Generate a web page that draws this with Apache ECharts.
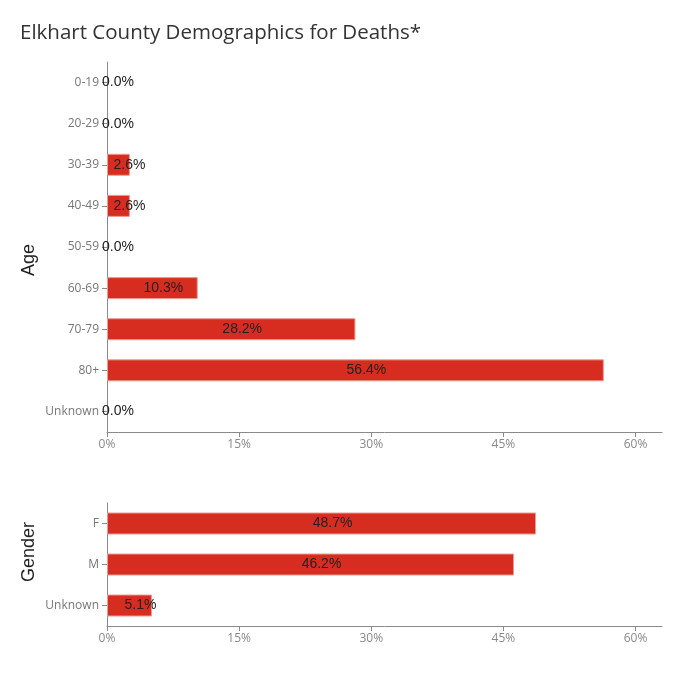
<!DOCTYPE html>
<html>
<head>
<meta charset="utf-8">
<script src="https://cdn.jsdelivr.net/npm/echarts@6/dist/echarts.min.js"></script>
<style>
  html, body { margin: 0; padding: 0; background: #fff; }
  #chart { width: 678px; height: 698px; }
</style>
</head>
<body>
<div id="chart"></div>
<script>
const titleText = 'Elkhart County Demographics for Deaths*';
const ageCategories = ['0-19', '20-29', '30-39', '40-49', '50-59', '60-69', '70-79', '80+', 'Unknown'];
const ageValues = [0, 0, 2.6, 2.6, 0, 10.3, 28.2, 56.4, 0];
const genderCategories = ['F', 'M', 'Unknown'];
const genderValues = [48.7, 46.2, 5.1];
const xTickValues = [0, 15, 30, 45, 60];
const panelNames = ['Age', 'Gender'];

const chart = echarts.init(document.getElementById('chart'), null, { renderer: 'canvas' });

const axisGray = '#8a8a8a';
const labelFont = 'Open Sans';

function xAxisFor(gridIndex) {
  return {
    type: 'value', gridIndex: gridIndex, min: 0, max: 63,
    axisLine: { show: true, lineStyle: { color: axisGray, width: 1 } },
    axisTick: { show: true, length: 5, lineStyle: { color: axisGray }, customValues: xTickValues },
    axisLabel: { color: '#888', fontSize: 12, fontFamily: labelFont, margin: 7,
      customValues: xTickValues, formatter: v => v + '%' },
    splitLine: { show: false }
  };
}
function yAxisFor(gridIndex, cats) {
  return {
    type: 'category', gridIndex: gridIndex, data: cats, inverse: true,
    axisLine: { show: true, lineStyle: { color: axisGray, width: 1 } },
    axisTick: { show: true, length: 5, alignWithLabel: true, lineStyle: { color: axisGray } },
    axisLabel: { color: '#777', fontSize: 12, fontFamily: labelFont, margin: 8 },
    splitLine: { show: false }
  };
}
function barSeries(idx, values) {
  return {
    type: 'bar', xAxisIndex: idx, yAxisIndex: idx,
    data: values.map(v => v === 0 ? { value: v, itemStyle: { borderWidth: 0 } } : v),
    barWidth: 22,
    itemStyle: { color: '#d62d20', borderColor: '#ec9a93', borderWidth: 1 },
    label: {
      show: true, position: 'inside', offset: [11, 0],
      color: '#222', fontSize: 14, fontFamily: 'Liberation Sans',
      formatter: p => p.value.toFixed(1) + '%'
    },
    silent: true
  };
}

chart.setOption({
  animation: false,
  backgroundColor: '#fff',
  title: {
    text: titleText, left: 20, top: 23, padding: 0,
    textStyle: { color: '#333', fontSize: 20.5, fontWeight: 'normal', fontFamily: labelFont }
  },
  grid: [
    { left: 107, right: 16, top: 62, height: 370, containLabel: false },
    { left: 107, right: 16, top: 503, height: 123, containLabel: false }
  ],
  xAxis: [xAxisFor(0), xAxisFor(1)],
  yAxis: [yAxisFor(0, ageCategories), yAxisFor(1, genderCategories)],
  series: [barSeries(0, ageValues), barSeries(1, genderValues)],
  graphic: [
    { type: 'text', x: 29, y: 260, rotation: Math.PI / 2,
      style: { text: panelNames[0], fill: '#222', font: '18px "Liberation Sans"', align: 'center', verticalAlign: 'middle' } },
    { type: 'text', x: 29, y: 552, rotation: Math.PI / 2,
      style: { text: panelNames[1], fill: '#222', font: '18px "Liberation Sans"', align: 'center', verticalAlign: 'middle' } }
  ]
});
</script>
</body>
</html>
